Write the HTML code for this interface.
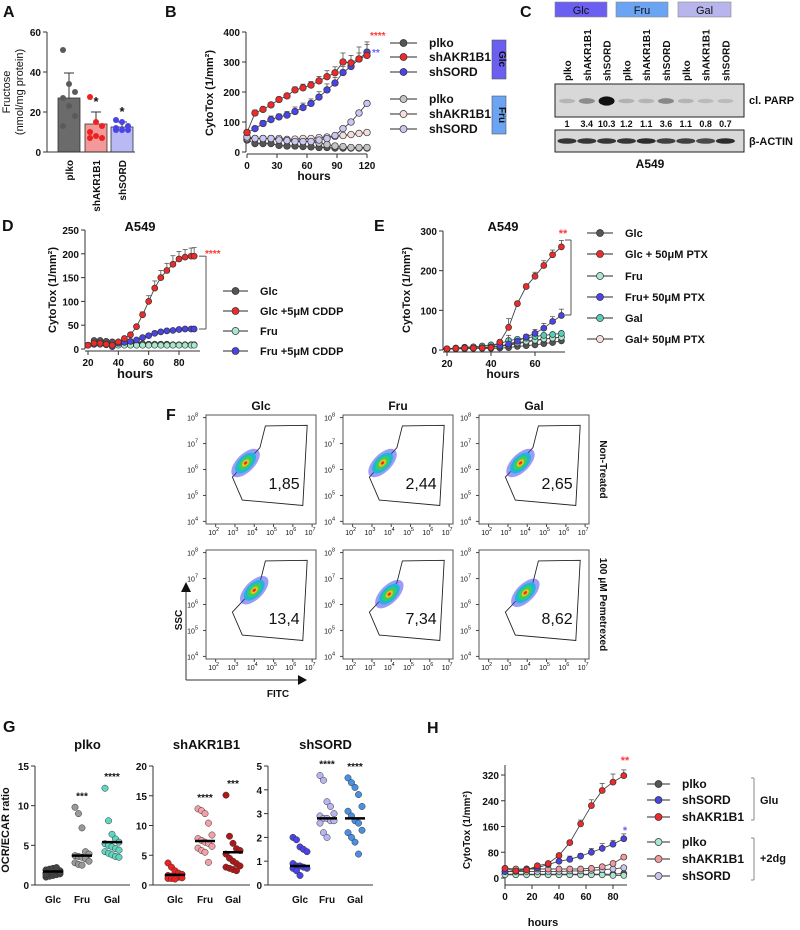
<!DOCTYPE html>
<html><head><meta charset="utf-8">
<style>
html,body{margin:0;padding:0;background:#fff;}
svg{display:block;font-family:"Liberation Sans",Arial,sans-serif;}
text{font-family:"Liberation Sans",Arial,sans-serif;}
</style></head>
<body>
<svg id="fig" xmlns="http://www.w3.org/2000/svg" width="800" height="930" viewBox="0 0 800 930"></svg>
<script>
// ===== Panel A data =====
const aCategories = ["plko","shAKR1B1","shSORD"];
const aMeans = [27, 14, 12.5];
const aSD = [12.5, 6, 2.5];
const aPlkoPts = [51,34,30,27,23,18,13];
const aAkrPts = [27.5,15,13,10,8,7,7];
const aSordPts = [16,15,13,12,11,11,11];
const aTicks = [0,20,40,60];

// ===== Panel B data =====
const bHours = [0,8,16,24,32,40,48,56,64,72,80,88,96,104,112,120];
const bPlkoGlc = [40,28,28,28,22,20,20,18,17,15,15,13,13,13,13,13];
const bAkrGlc = [65,130,142,157,175,187,207,214,223,237,251,264,300,297,310,322];
const bSordGlc = [65,78,95,108,117,123,135,148,162,183,207,230,265,285,310,333];
const bPlkoFru = [45,45,45,45,42,38,38,35,35,30,25,20,18,15,15,15];
const bAkrFru = [50,45,45,45,45,42,43,45,45,48,50,52,55,58,62,65];
const bSordFru = [50,45,45,45,40,38,35,35,35,40,45,55,78,100,130,162];
const bAkrErr = [0,10,8,8,8,8,10,12,12,15,20,20,30,25,40,45];
const bSordErr = [0,8,10,12,10,12,15,15,15,18,20,18,20,15,20,25];
const bYTicks = [0,100,200,300,400];
const bXTicks = [0,30,60,90,120];

// ===== Panel C data =====
const cLanes = ["plko","shAKR1B1","shSORD","plko","shAKR1B1","shSORD","plko","shAKR1B1","shSORD"];
const cParp = [1,3.4,10.3,1.2,1.1,3.6,1.1,0.8,0.7];
const cParpLabels = ["1","3.4","10.3","1.2","1.1","3.6","1.1","0.8","0.7"];
const cActin = [0.85,0.85,0.85,0.85,0.9,0.8,0.8,0.75,0.9];

// ===== Panel D data =====
const dHours = [20,24,28,32,36,40,44,48,52,56,60,64,68,72,76,80,84,88,90];
const dGlc = [8,18,18,16,15,14,14,13,12,11,10,10,10,10,9,9,9,9,9];
const dGlcCddp = [8,12,12,10,8,15,22,30,47,72,100,128,150,165,178,189,193,195,195];
const dFru = [8,10,10,9,8,8,8,8,8,8,8,8,8,8,8,8,8,8,8];
const dFruCddp = [8,10,12,10,5,12,14,16,19,24,28,33,36,38,39,41,42,42,42];
const dCddpErr = [0,0,0,0,0,0,0,0,4,6,12,15,15,15,18,16,16,17,18];
const dYTicks = [0,50,100,150,200,250];
const dXTicks = [20,40,60,80];

// ===== Panel E data =====
const eHours = [20,24,28,32,36,40,44,48,52,56,60,64,68,72];
const eGlc = [2,3,3,4,4,4,5,6,9,11,13,16,19,23];
const eGlcPtx = [3,4,5,5,5,6,20,57,117,160,186,213,240,260];
const eFru = [3,4,5,5,6,7,10,14,18,22,25,28,30,32];
const eFruPtx = [3,4,5,5,6,8,10,15,22,33,42,55,72,87];
const eGal = [3,5,7,8,10,13,16,24,27,30,34,37,39,42];
const eGalPtx = [3,4,5,5,6,7,9,12,16,20,24,27,30,33];
const ePtxErr = [0,0,0,0,0,0,0,22,6,6,10,12,12,16];
const eYTicks = [0,100,200,300];
const eXTicks = [20,40,60];

// ===== Panel F data =====
const fCols = ["Glc","Fru","Gal"];
const fRows = ["Non-Treated","100 μM Pemetrexed"];
const fValues = [["1,85","2,44","2,65"],["13,4","7,34","8,62"]];
const fCloudX = [[3.55,3.55,3.65],[4.0,3.9,3.9]];
const fCloudY = [[6.25,6.25,6.25],[6.55,6.4,6.45]];

// ===== Panel G data =====
const gGroups = ["plko","shAKR1B1","shSORD"];
const gCats = ["Glc","Fru","Gal"];
const gMax = [15,20,5];
const gTicks = [[0,5,10,15],[0,5,10,15,20],[0,1,2,3,4,5]];
const gPlkoGlc = [1.0,1.1,1.2,1.3,1.4,1.5,1.6,1.7,1.8,1.8,1.9,2.0,2.1,2.2,1.6,1.3];
const gPlkoFru = [9.8,9.0,7.2,4.2,3.9,3.7,3.6,3.5,3.3,3.0,2.8,2.6,2.5];
const gPlkoGal = [12.2,8.1,6.4,5.8,5.4,5.2,5.0,4.8,4.6,4.4,4.2,4.0,3.8,3.6,3.5];
const gAkrGlc = [3.7,3.0,2.4,2.0,1.8,1.6,1.5,1.4,1.3,1.2,1.1,1.1,1.0];
const gAkrFru = [12.8,12.5,12.0,10.4,8.4,7.8,7.5,7.2,7.0,6.5,6.2,5.8,5.5,3.8];
const gAkrGal = [15.1,8.2,7.0,6.1,5.8,5.2,4.5,4.0,3.6,3.2,3.0,2.8,2.6,2.4];
const gSordGlc = [2.0,1.9,1.6,1.5,1.4,0.9,0.8,0.8,0.75,0.7,0.7,0.6,0.4];
const gSordFru = [4.6,4.4,3.5,3.3,3.0,2.9,2.8,2.8,2.7,2.7,2.6,2.2,2.0];
const gSordGal = [4.5,4.3,4.1,3.8,3.3,3.1,2.9,2.7,2.6,2.3,2.2,2.0,1.8,1.3];
const gMedians = [[1.7,3.7,5.4],[1.7,7.4,5.5],[0.8,2.8,2.8]];
const gStars = [[null,"***","****"],[null,"****","***"],[null,"****","****"]];

// ===== Panel H data =====
const hHours = [0,8,16,24,32,40,48,56,64,72,80,88];
const hPlkoGlu = [12,12,12,12,12,12,12,12,12,12,12,14];
const hSordGlu = [20,22,28,32,42,52,58,68,80,92,105,122];
const hAkrGlu = [30,22,25,38,45,70,110,168,225,272,298,318];
const hPlko2dg = [10,10,10,10,10,10,10,10,10,10,8,8];
const hAkr2dg = [30,28,28,28,28,28,28,28,30,35,45,65];
const hSord2dg = [20,20,20,20,20,20,22,22,24,26,28,32];
const hAkrErr = [0,5,5,5,5,6,6,12,18,22,25,18];
const hSordErr = [0,0,0,0,0,6,10,8,12,15,12,15];
const hYTicks = [0,80,160,240,320];
const hXTicks = [0,20,40,60,80];

const NS = "http://www.w3.org/2000/svg";
const svg = document.getElementById("fig");
function el(tag, attrs, parent, txt){
  const e = document.createElementNS(NS, tag);
  for (const k in attrs) e.setAttribute(k, attrs[k]);
  if (txt !== undefined) e.textContent = txt;
  (parent || svg).appendChild(e);
  return e;
}
function grp(name, parent){
  const g = el("g", {}, parent);
  
  
  return g;
}
function txt(parent, x, y, s, opts){
  const o = Object.assign({size:11, weight:"bold", anchor:"middle", fill:"#111"}, opts||{});
  const a = {x:x, y:y, "font-size":o.size, "font-weight":o.weight, "text-anchor":o.anchor, fill:o.fill};
  if (o.rot !== undefined) a.transform = "rotate("+o.rot+" "+x+" "+y+")";
  return el("text", a, parent, s);
}
function scale(d0,d1,r0,r1){ return v => r0 + (v-d0)*(r1-r0)/(d1-d0); }
function panelLetter(ch, x, y){
  const t = txt(svg, x, y, ch, {size:16, anchor:"start"});
  
  
}
function yAxis(g, x, y0, y1, ticks, sy, fs){
  el("line",{x1:x,y1:y0,x2:x,y2:y1,stroke:"#333","stroke-width":1},g);
  ticks.forEach(t=>{
    el("line",{x1:x-4,y1:sy(t),x2:x,y2:sy(t),stroke:"#333"},g);
    txt(g, x-6, sy(t)+4, String(t), {size:fs||10, anchor:"end"});
  });
}
function xAxis(g, y, x0, x1, ticks, sx, fs){
  el("line",{x1:x0,y1:y,x2:x1,y2:y,stroke:"#333","stroke-width":1},g);
  ticks.forEach(t=>{
    el("line",{x1:sx(t),y1:y,x2:sx(t),y2:y+4,stroke:"#333"},g);
    txt(g, sx(t), y+15, String(t), {size:fs||10});
  });
}
function series(parent, name, xs, ys, sx, sy, color, r, errs){
  const g = grp(name, parent);
  if (errs){
    xs.forEach((x,i)=>{ if(errs[i]>0){
      const px=sx(x), py=sy(ys[i]), pe=sy(ys[i]+errs[i]);
      el("line",{x1:px,y1:py,x2:px,y2:pe,stroke:"#555","stroke-width":0.8},g);
      el("line",{x1:px-2.5,y1:pe,x2:px+2.5,y2:pe,stroke:"#555","stroke-width":0.8},g);
    }});
  }
  el("polyline",{points:xs.map((x,i)=>sx(x)+","+sy(ys[i])).join(" "),fill:"none",stroke:"#444","stroke-width":0.9},g);
  xs.forEach((x,i)=>{
    const c = el("circle",{cx:sx(x),cy:sy(ys[i]),r:r,fill:color,stroke:"#333","stroke-width":0.7},g);
    
    
  });
}
function legendEntry(parent, x1, x2, y, color, label, fs){
  const g = grp("legend-entry", parent);
  el("line",{x1:x1,y1:y,x2:x2,y2:y,stroke:"#555","stroke-width":1.2},g);
  el("circle",{cx:(x1+x2)/2,cy:y,r:3.5,fill:color,stroke:"#333","stroke-width":0.7},g);
  txt(g, x2+12, y+4, label, {size:fs||11, anchor:"start"});
}

const C = {dark:"#555555", red:"#ee2a2a", blue:"#4a44e6", grey:"#c4c4c4", pink:"#f6dede", lav:"#c9c7f2",
           mint:"#a8e8cc", teal:"#54cfb6", pinkMid:"#f29a9a", darkred:"#b01818"};

// ================= Panel A =================
(function(){
  panelLetter("A", 3, 17);
  const g = grp("panel-a-bar-chart");
  const sy = scale(0,60,152,32);
  const centers = [69,96,122];
  const fills = ["#6b6b6b","#f29a9a","#b9b9f5"];
  const dots = [aPlkoPts,aAkrPts,aSordPts];
  const dotCol = ["#5a5a5a","#ee2020","#4a44e6"];
  aCategories.forEach((c,i)=>{
    const b = el("rect",{x:centers[i]-11,y:sy(aMeans[i]),width:22,height:152-sy(aMeans[i]),fill:fills[i],stroke:"#333","stroke-width":0.8},g);
    
    
    const top = sy(aMeans[i]+aSD[i]);
    el("line",{x1:centers[i],y1:sy(aMeans[i]),x2:centers[i],y2:top,stroke:"#333"},g);
    el("line",{x1:centers[i]-5,y1:top,x2:centers[i]+5,y2:top,stroke:"#333"},g);
    dots[i].forEach((v,j)=>{
      const off = ((j%3)-1)*6;
      el("circle",{cx:centers[i]+off,cy:sy(v),r:3,fill:dotCol[i],stroke:"none"},g);
    });
    txt(g, centers[i]+4, 160, c, {size:10, anchor:"end", rot:-90});
  });
  txt(g, 96, sy(aMeans[1]+aSD[1])-6, "*", {size:13});
  txt(g, 122, sy(aMeans[2]+aSD[2])-6, "*", {size:13});
  yAxis(g, 47, 152, 32, aTicks, sy, 10);
  el("line",{x1:47,y1:152,x2:135,y2:152,stroke:"#333"},g);
  txt(g, 10, 92, "Fructose", {size:11, weight:"normal", rot:-90});
  txt(g, 23, 92, "(nmol/mg protein)", {size:11, weight:"normal", rot:-90});
})();

// ================= Panel B =================
(function(){
  panelLetter("B", 165, 17);
  const g = grp("panel-b-line-chart");
  const sx = scale(0,120,247,367), sy = scale(0,400,152,32);
  yAxis(g, 246, 152, 32, bYTicks, sy, 10);
  xAxis(g, 154, 247, 367, bXTicks, sx, 10);
  txt(g, 314, 180, "hours", {size:12});
  txt(g, 213, 93, "CytoTox (1/mm²)", {size:11, rot:-90});
  series(g,"plko-glc",bHours,bPlkoGlc,sx,sy,C.dark,3.3);
  series(g,"plko-fru",bHours,bPlkoFru,sx,sy,C.grey,3.3);
  series(g,"shakr1b1-fru",bHours,bAkrFru,sx,sy,C.pink,3.3);
  series(g,"shsord-fru",bHours,bSordFru,sx,sy,C.lav,3.3);
  series(g,"shsord-glc",bHours,bSordGlc,sx,sy,C.blue,3.3,bSordErr);
  series(g,"shakr1b1-glc",bHours,bAkrGlc,sx,sy,C.red,3.3,bAkrErr);
  txt(g, 370, 39, "****", {size:10, anchor:"start", fill:"#ff3a3a"});
  txt(g, 372, 56, "**", {size:10, anchor:"start", fill:"#6a64ff"});
  const lg = grp("panel-b-legend", g);
  const ly=[43,57,72,99,114,129], lc=[C.dark,C.red,C.blue,C.grey,C.pink,C.lav], ll=["plko","shAKR1B1","shSORD","plko","shAKR1B1","shSORD"];
  ly.forEach((y,i)=>legendEntry(lg,390,417,y,lc[i],ll[i],12));
  el("rect",{x:492,y:40,width:14,height:39,fill:"#6a5ff0",stroke:"#555","stroke-width":0.6},lg);
  txt(lg, 499, 59, "Glc", {size:10, rot:90});
  el("rect",{x:492,y:96,width:14,height:38,fill:"#6aa4f2",stroke:"#555","stroke-width":0.6},lg);
  txt(lg, 499, 115, "Fru", {size:10, rot:90});
})();

// ================= Panel C =================
(function(){
  panelLetter("C", 520, 17);
  const g = grp("panel-c-western-blot");
  const hdr = [["Glc",555,607,"#6a5ff0"],["Fru",616,668,"#6aa4f2"],["Gal",678,731,"#b8b4ec"]];
  hdr.forEach(h=>{
    const r = el("rect",{x:h[1],y:2,width:h[2]-h[1],height:15,fill:h[3],stroke:"#888","stroke-width":0.6},g);
    
    
    txt(g,(h[1]+h[2])/2,14,h[0],{size:11,weight:"normal"});
  });
  const lx = i => 567 + i*19.8;
  cLanes.forEach((l,i)=>txt(g, lx(i)+4, 81, l, {size:10, anchor:"start", rot:-90}));
  el("rect",{x:555,y:84,width:189,height:33,fill:"#d8d8d8",stroke:"#222","stroke-width":1},g);
  cParp.forEach((v,i)=>{
    const op = Math.min(1, 0.08 + v*0.09);
    el("ellipse",{cx:lx(i),cy:101,rx:8,ry:2+Math.min(v,10.3)*0.25,fill:"#111",opacity:op},g);
    txt(g, lx(i), 127, cParpLabels[i], {size:9});
  });
  el("rect",{x:555,y:130,width:189,height:22,fill:"#d8d8d8",stroke:"#222","stroke-width":1},g);
  cActin.forEach((v,i)=>{
    el("ellipse",{cx:lx(i),cy:141,rx:9.5,ry:2.8,fill:"#1a1a1a",opacity:v},g);
  });
  txt(g, 749, 104, "cl. PARP", {size:11, anchor:"start"});
  txt(g, 749, 145, "β-ACTIN", {size:11, anchor:"start"});
  txt(g, 650, 168, "A549", {size:12});
})();

// ================= Panel D =================
(function(){
  panelLetter("D", 2, 231);
  const g = grp("panel-d-line-chart");
  const sx = scale(20,80,88,179), sy = scale(0,250,349,230);
  yAxis(g, 85, 349, 230, dYTicks, sy, 10);
  xAxis(g, 351, 85, 200, dXTicks, sx, 10);
  txt(g, 135, 378, "hours", {size:13});
  txt(g, 140, 231, "A549", {size:13});
  txt(g, 56, 290, "CytoTox (1/mm²)", {size:11, rot:-90});
  series(g,"glc",dHours,dGlc,sx,sy,C.dark,3);
  series(g,"fru",dHours,dFru,sx,sy,C.mint,3);
  series(g,"fru-cddp",dHours,dFruCddp,sx,sy,C.blue,3);
  series(g,"glc-cddp",dHours,dGlcCddp,sx,sy,C.red,3,dCddpErr);
  const yT = sy(dGlcCddp[dGlcCddp.length-1]), yB = sy(dFruCddp[dFruCddp.length-1]);
  el("line",{x1:206,y1:yT,x2:206,y2:yB,stroke:"#555"},g);
  el("line",{x1:199,y1:yT,x2:206,y2:yT,stroke:"#555"},g);
  el("line",{x1:199,y1:yB,x2:206,y2:yB,stroke:"#555"},g);
  txt(g, 205, 257, "****", {size:10, anchor:"start", fill:"#ff3a3a"});
  const lg = grp("panel-d-legend", g);
  [[291,C.dark,"Glc"],[311,C.red,"Glc +5μM CDDP"],[331,C.mint,"Fru"],[351,C.blue,"Fru +5μM CDDP"]].forEach(e=>legendEntry(lg,223,248,e[0],e[1],e[2],11));
})();

// ================= Panel E =================
(function(){
  panelLetter("E", 374, 231);
  const g = grp("panel-e-line-chart");
  const sx = scale(20,60,447,535), sy = scale(0,300,350,231);
  yAxis(g, 443, 350, 231, eYTicks, sy, 10);
  xAxis(g, 352, 443, 565, eXTicks, sx, 10);
  txt(g, 503, 378, "hours", {size:12});
  txt(g, 503, 231, "A549", {size:13});
  txt(g, 410, 290, "CytoTox (1/mm²)", {size:11, rot:-90});
  series(g,"glc",eHours,eGlc,sx,sy,C.dark,3);
  series(g,"gal-ptx",eHours,eGalPtx,sx,sy,C.pink,3);
  series(g,"fru",eHours,eFru,sx,sy,C.mint,3);
  series(g,"gal",eHours,eGal,sx,sy,C.teal,3);
  series(g,"fru-ptx",eHours,eFruPtx,sx,sy,C.blue,3,ePtxErr);
  series(g,"glc-ptx",eHours,eGlcPtx,sx,sy,C.red,3,ePtxErr);
  el("line",{x1:571,y1:240,x2:571,y2:315,stroke:"#555"},g);
  el("line",{x1:565,y1:240,x2:571,y2:240,stroke:"#555"},g);
  el("line",{x1:565,y1:315,x2:571,y2:315,stroke:"#555"},g);
  txt(g, 563, 237, "**", {size:11, fill:"#ff3a3a"});
  const lg = grp("panel-e-legend", g);
  [[233,C.dark,"Glc"],[254,C.red,"Glc + 50μM PTX"],[276,C.mint,"Fru"],[297,C.blue,"Fru+ 50μM PTX"],[318,C.teal,"Gal"],[339,C.pink,"Gal+ 50μM PTX"]].forEach(e=>legendEntry(lg,587,613,e[0],e[1],e[2],11));
})();

// ================= Panel F =================
(function(){
  panelLetter("F", 166, 420);
  const g = grp("panel-f-flow-cytometry");
  const colX = [206,343,479], rowY = [415,550], W = 110, H = 109;
  fCols.forEach((c,i)=>txt(g, colX[i]+W/2, 410, c, {size:12}));
  const gate = [[0.54,0.1],[0.92,0.095],[0.88,0.83],[0.33,0.78],[0.24,0.57],[0.49,0.30]];
  fRows.forEach((rname,r)=>{
    fCols.forEach((c,i)=>{
      const x0 = colX[i], y0 = rowY[r];
      const p = grp("flow-plot-"+c.toLowerCase()+"-"+(r===0?"untreated":"pemetrexed"), g);
      el("rect",{x:x0,y:y0,width:W,height:H,fill:"#fff",stroke:"#444","stroke-width":0.9},p);
      const lx = v => x0 + (v-1.5)/(7.2-1.5)*W;
      const ly = v => y0 + H - (v-3.9)/(8.1-3.9)*H;
      [4,5,6,7,8].forEach(e=>{
        el("line",{x1:x0-3,y1:ly(e),x2:x0,y2:ly(e),stroke:"#444"},p);
        const t = txt(p, x0-8, ly(e)+3, "10", {size:7, weight:"normal", anchor:"end"});
        el("tspan",{dy:-4,"font-size":5.5},t,String(e));
      });
      [2,3,4,5,6,7].forEach(e=>{
        el("line",{x1:lx(e),y1:y0+H,x2:lx(e),y2:y0+H+3,stroke:"#444"},p);
        const t = txt(p, lx(e)-2, y0+H+11, "10", {size:7, weight:"normal"});
        el("tspan",{dy:-4,"font-size":5.5},t,String(e));
      });
      el("polygon",{points:gate.map(q=>(x0+q[0]*W)+","+(y0+q[1]*H)).join(" "),fill:"none",stroke:"#222","stroke-width":0.9},p);
      const cx = lx(fCloudX[r][i]), cy = ly(fCloudY[r][i]);
      const tr = "rotate(-45 "+cx+" "+cy+")";
      el("ellipse",{cx:cx,cy:cy,rx:18,ry:9,fill:"#3a3af0",opacity:0.5,transform:tr},p);
      el("ellipse",{cx:cx,cy:cy,rx:13,ry:7,fill:"#1fb6d8",transform:tr},p);
      el("ellipse",{cx:cx,cy:cy,rx:8.5,ry:4.8,fill:"#38d05a",transform:tr},p);
      el("ellipse",{cx:cx,cy:cy,rx:4.5,ry:2.7,fill:"#f0c020",transform:tr},p);
      el("ellipse",{cx:cx,cy:cy,rx:2,ry:1.3,fill:"#e83020",transform:tr},p);
      txt(p, x0+0.71*W, y0+0.68*H, fValues[r][i], {size:16, weight:"normal"});
    });
    txt(g, 600, rowY[r]+H/2, rname, {size:10, rot:90});
  });
  const ax = grp("flow-axis-arrows", g);
  el("line",{x1:186,y1:680,x2:186,y2:592,stroke:"#333","stroke-width":1},ax);
  el("polygon",{points:"181,592 191,592 186,582",fill:"#111"},ax);
  el("line",{x1:186,y1:680,x2:298,y2:680,stroke:"#333","stroke-width":1},ax);
  el("polygon",{points:"298,675 298,685 307,680",fill:"#111"},ax);
  txt(ax, 182, 620, "SSC", {size:10, rot:-90});
  txt(ax, 278, 697, "FITC", {size:10});
})();

// ================= Panel G =================
(function(){
  panelLetter("G", 3, 732);
  const g = grp("panel-g-scatter");
  const axX = [35,153,268], axEnd = [130,250,373];
  const catX = [[53,82,112],[175,205,233],[300,327,355]];
  const data = [[gPlkoGlc,gPlkoFru,gPlkoGal],[gAkrGlc,gAkrFru,gAkrGal],[gSordGlc,gSordFru,gSordGal]];
  const cols = [["#444","#999","#5fd6c0"],["#ee2020","#f4a0a8","#b01818"],["#4a44e6","#b8b6f0","#4a90e2"]];
  gGroups.forEach((name,k)=>{
    const sg = grp("scatter-"+name.toLowerCase(), g);
    const sy = scale(0,gMax[k],885,766);
    txt(sg, (axX[k]+axEnd[k])/2+5, 749, name, {size:13});
    yAxis(sg, axX[k], 885, 766, gTicks[k], sy, 10);
    el("line",{x1:axX[k],y1:885,x2:axEnd[k],y2:885,stroke:"#333"},sg);
    gCats.forEach((c,j)=>{
      const cx = catX[k][j];
      txt(sg, cx, 903, c, {size:10});
      const vals = data[k][j];
      vals.forEach((v,m)=>{
        const off = ((m%5)-2)*3.5;
        const d = el("circle",{cx:cx+off,cy:sy(v),r:3.2,fill:cols[k][j],stroke:"#333","stroke-width":0.5},sg);
        
        
      });
      const med = gMedians[k][j];
      el("line",{x1:cx-10,y1:sy(med),x2:cx+10,y2:sy(med),stroke:"#000","stroke-width":2.5},sg);
      if (gStars[k][j]) txt(sg, cx, sy(Math.max(...vals))-8, gStars[k][j], {size:10});
    });
  });
  txt(g, 9, 830, "OCR/ECAR ratio", {size:11, rot:-90});
})();

// ================= Panel H =================
(function(){
  panelLetter("H", 427, 733);
  const g = grp("panel-h-line-chart");
  const sx = scale(0,80,505,613), sy = scale(0,320,878,775);
  yAxis(g, 505, 885, 765, hYTicks, sy, 10);
  xAxis(g, 885, 505, 627, hXTicks, sx, 10);
  txt(g, 543, 926, "hours", {size:11});
  txt(g, 470, 830, "CytoTox (1/mm²)", {size:10, rot:-90});
  series(g,"plko-glu",hHours,hPlkoGlu,sx,sy,C.dark,3);
  series(g,"plko-2dg",hHours,hPlko2dg,sx,sy,C.mint,3);
  series(g,"shsord-2dg",hHours,hSord2dg,sx,sy,C.lav,3);
  series(g,"shakr1b1-2dg",hHours,hAkr2dg,sx,sy,C.pinkMid,3);
  series(g,"shsord-glu",hHours,hSordGlu,sx,sy,C.blue,3,hSordErr);
  series(g,"shakr1b1-glu",hHours,hAkrGlu,sx,sy,C.red,3,hAkrErr);
  txt(g, 625, 764, "**", {size:11, fill:"#ff3a3a"});
  txt(g, 625, 834, "*", {size:11, fill:"#6a64ff"});
  const lg = grp("panel-h-legend", g);
  [[784,C.dark,"plko"],[800,C.blue,"shSORD"],[817,C.red,"shAKR1B1"],[842,C.mint,"plko"],[859,C.pinkMid,"shAKR1B1"],[876,C.lav,"shSORD"]].forEach(e=>legendEntry(lg,647,670,e[0],e[1],e[2],12));
  el("line",{x1:754,y1:778,x2:754,y2:820,stroke:"#888"},lg);
  el("line",{x1:751,y1:778,x2:754,y2:778,stroke:"#888"},lg);
  el("line",{x1:751,y1:820,x2:754,y2:820,stroke:"#888"},lg);
  txt(lg, 760, 804, "Glu", {size:11, anchor:"start"});
  el("line",{x1:754,y1:838,x2:754,y2:880,stroke:"#888"},lg);
  el("line",{x1:751,y1:838,x2:754,y2:838,stroke:"#888"},lg);
  el("line",{x1:751,y1:880,x2:754,y2:880,stroke:"#888"},lg);
  txt(lg, 760, 862, "+2dg", {size:11, anchor:"start"});
})();
</script>
</body></html>
